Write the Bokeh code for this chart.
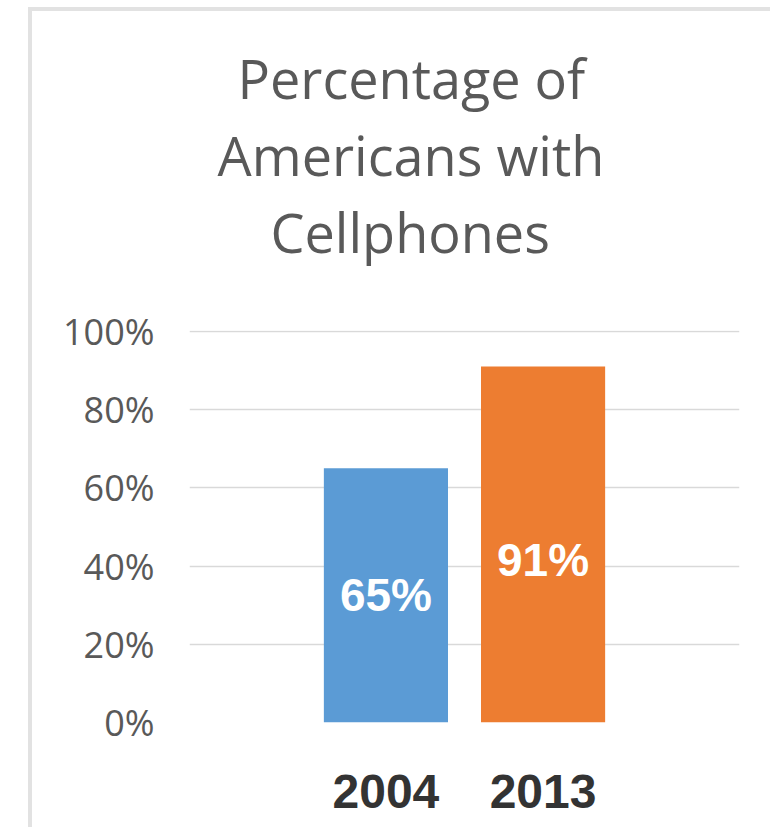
from bokeh.plotting import figure
from bokeh.models import ColumnDataSource, FactorRange, Range1d, FixedTicker, NumeralTickFormatter, Title
from bokeh.core.properties import value
from bokeh.embed import file_html
from bokeh.resources import INLINE

# ---- data ----
years = ["2004", "2013"]
share = [0.65, 0.91]
colors = ["#5B9BD5", "#ED7D31"]
y_ticks = [0, 0.2, 0.4, 0.6, 0.8, 1.0]
title_lines = ["Percentage of", "Americans with", "Cellphones"]

labels = [f"{round(v * 100)}%" for v in share]
label_y = [v / 2 for v in share]
label_dy = [0, 16]

src = ColumnDataSource(dict(year=years, share=share, color=colors,
                            label=labels, label_y=label_y, dy=label_dy))

p = figure(
    x_range=FactorRange(factors=years, range_padding=0.75, range_padding_units="absolute"),
    y_range=Range1d(0, 1.002),
    width=742, height=820,
    output_backend="svg", toolbar_location=None,
    min_border_left=157, min_border_right=35, min_border_top=319, min_border_bottom=109,
    background_fill_color="white", border_fill_color="white",
    styles={"margin-left": "28px", "margin-top": "7px",
            "border-left": "4px solid #e2e2e2", "border-top": "4px solid #e2e2e2"},
)
p.outline_line_color = None

p.vbar(x="year", top="share", width=0.79, fill_color="color", line_color=None, source=src)
p.text(x="year", y="label_y", text="label", y_offset="dy", source=src,
       text_align="center", text_baseline="middle", text_color="white",
       text_font=value("Liberation Sans"), text_font_style="bold", text_font_size="46px")

p.xgrid.grid_line_color = None
p.ygrid.ticker = FixedTicker(ticks=y_ticks)
p.ygrid.grid_line_color = "#d9d9d9"
p.ygrid.grid_line_width = 1.5

ya = p.yaxis[0]
ya.ticker = FixedTicker(ticks=y_ticks)
ya.formatter = NumeralTickFormatter(format="0%")
ya.axis_line_color = None
ya.major_tick_line_color = None
ya.major_tick_out = 0
ya.minor_tick_line_color = None
ya.minor_tick_out = 0
ya.major_label_text_font = "Open Sans"
ya.major_label_text_font_size = "36px"
ya.major_label_text_color = "#595959"
ya.major_label_standoff = 35

xa = p.xaxis[0]
xa.axis_line_color = None
xa.major_tick_line_color = None
xa.major_tick_out = 0
xa.minor_tick_line_color = None
xa.minor_tick_out = 0
xa.major_label_text_font = "Liberation Sans"
xa.major_label_text_font_style = "bold"
xa.major_label_text_font_size = "48px"
xa.major_label_text_color = "#333333"
xa.major_label_standoff = 52

# spacer between the plot area and the title block
p.add_layout(Title(text=" ", standoff=0, text_font="Open Sans", text_font_size="43px",
                   text_color="white"), "above")

offsets = [48, 28, 81]
for line, off in reversed(list(zip(title_lines, offsets))):
    p.add_layout(Title(text=line, align="left", offset=off, standoff=1,
                       text_font="Open Sans", text_font_size="54px",
                       text_font_style="normal", text_color="#595959"), "above")

open("out.html", "w").write(file_html(p, INLINE))
